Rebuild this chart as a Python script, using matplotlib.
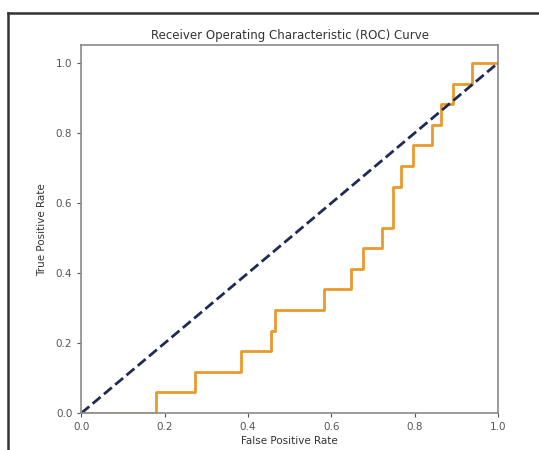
import matplotlib
matplotlib.use("Agg")
import matplotlib.pyplot as plt
from matplotlib.lines import Line2D

# ROC corner points (17 positives -> steps of 1/17)
fpr = [0.0, 0.180, 0.180, 0.272, 0.272, 0.382, 0.382, 0.454, 0.454, 0.465, 0.465,
       0.583, 0.583, 0.646, 0.646, 0.677, 0.677, 0.722, 0.722, 0.749, 0.749,
       0.766, 0.766, 0.797, 0.797, 0.841, 0.841, 0.862, 0.862, 0.893, 0.893,
       0.937, 0.937, 1.0]
tpr = [0.0, 0.0, 0.059, 0.059, 0.118, 0.118, 0.176, 0.176, 0.235, 0.235, 0.294,
       0.294, 0.353, 0.353, 0.412, 0.412, 0.471, 0.471, 0.529, 0.529, 0.647,
       0.647, 0.706, 0.706, 0.765, 0.765, 0.824, 0.824, 0.882, 0.882, 0.941,
       0.941, 1.0, 1.0]
diag = [0, 1]

fig = plt.figure(figsize=(5.39, 4.5), dpi=100)
ax = fig.add_axes([0.151, 0.082, 0.773, 0.817])

ax.plot(fpr, tpr, color='#e89a2c', lw=2)
ax.plot(diag, diag, color='#1f2a55', lw=2, linestyle='--')

ax.set_xlim(0.0, 1.0)
ax.set_ylim(0.0, 1.05)
ax.set_title('Receiver Operating Characteristic (ROC) Curve', fontsize=8.5, color='#333333', pad=5)
ax.set_xlabel('False Positive Rate', fontsize=7.5, color='#333333', labelpad=3)
ax.set_ylabel('True Positive Rate', fontsize=7.5, color='#333333', labelpad=6)
ax.tick_params(labelsize=7.5, colors='#555555', length=3)
for s in ax.spines.values():
    s.set_color('#8a8a8a')
    s.set_linewidth(1.2)

# screenshot frame (left and top edges)
fig.add_artist(Line2D([8/539, 8/539], [0, 1 - 13/450], color='#333333', lw=1.8))
fig.add_artist(Line2D([8/539, 1], [1 - 13/450, 1 - 13/450], color='#333333', lw=1.8))

fig.savefig('out.png', dpi=100)
